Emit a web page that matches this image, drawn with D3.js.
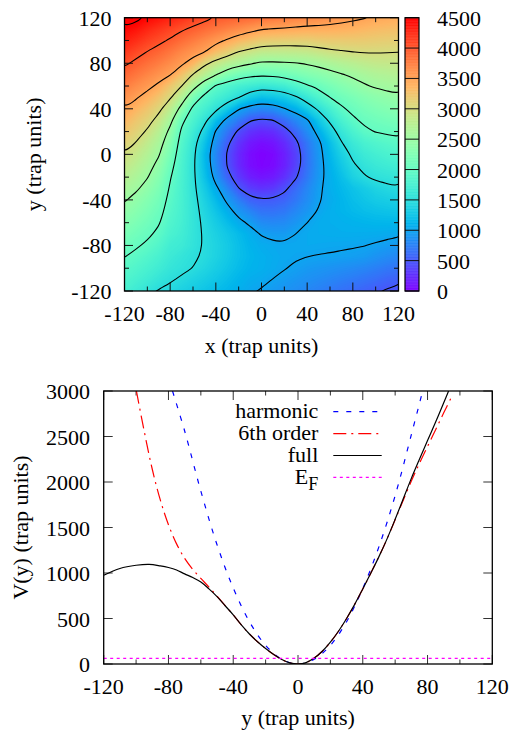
<!DOCTYPE html>
<html>
<head>
<meta charset="utf-8">
<title>trap potential</title>
<script src="https://cdn.jsdelivr.net/npm/d3@7"></script>
<style>
  body { margin: 0; background: #fff; }
  svg { display: block; }
  text { font-family: "Liberation Serif", "Times New Roman", serif; font-size: 22px; fill: #000; }
</style>
</head>
<body>
<svg id="chart" width="514" height="731"></svg>
<script>
// Top panel: V(x,y) every 10 trap units.
const gridX = [-120, -110, -100, -90, -80, -70, -60, -50, -40, -30, -20, -10, 0,
  10, 20, 30, 40, 50, 60, 70, 80, 90, 100, 110, 120];
const gridY = [120, 110, 100, 90, 80, 70, 60, 50, 40, 30, 20, 10, 0,
  -10, -20, -30, -40, -50, -60, -70, -80, -90, -100, -110, -120];
// one row per gridY value, one column per gridX value
const potential = [
  [4620, 4557, 4475, 4393, 4311, 4230, 4148, 4066, 3993, 3956, 3919, 3882, 3845, 3808, 3771, 3734, 3697, 3661, 3624, 3587, 3550, 3513, 3476, 3450, 3430],
  [4471, 4400, 4291, 4206, 4121, 4030, 3955, 3880, 3805, 3735, 3665, 3590, 3512, 3490, 3470, 3449, 3429, 3425, 3420, 3404, 3385, 3351, 3321, 3300, 3291],
  [4329, 4246, 4142, 4059, 3970, 3871, 3776, 3681, 3583, 3470, 3350, 3267, 3183, 3163, 3156, 3150, 3143, 3175, 3193, 3191, 3192, 3186, 3172, 3157, 3149],
  [4186, 4092, 3993, 3912, 3810, 3700, 3610, 3510, 3300, 3160, 2990, 2910, 2830, 2820, 2822, 2830, 2845, 2896, 2947, 2975, 3000, 3020, 3020, 3012, 3005],
  [4043, 3944, 3853, 3765, 3667, 3555, 3365, 3071, 2890, 2740, 2640, 2538, 2450, 2455, 2464, 2488, 2528, 2585, 2650, 2712, 2760, 2810, 2845, 2858, 2869],
  [3904, 3806, 3713, 3619, 3515, 3261, 2986, 2752, 2519, 2280, 2150, 2070, 2048, 2060, 2110, 2183, 2260, 2327, 2403, 2483, 2545, 2615, 2670, 2700, 2730],
  [3768, 3667, 3573, 3442, 3221, 3000, 2648, 2273, 1960, 1845, 1750, 1690, 1627, 1650, 1708, 1835, 1964, 2076, 2185, 2290, 2380, 2470, 2535, 2565, 2595],
  [3631, 3528, 3400, 3240, 3030, 2700, 2210, 1911, 1760, 1640, 1507, 1315, 1213, 1255, 1320, 1461, 1636, 1818, 2000, 2110, 2200, 2290, 2360, 2410, 2460],
  [3495, 3370, 3235, 3070, 2800, 2384, 1922, 1750, 1560, 1308, 1018, 882, 820, 855, 983, 1107, 1329, 1547, 1750, 1953, 2075, 2170, 2235, 2282, 2327],
  [3368, 3227, 3100, 2905, 2600, 2075, 1804, 1579, 1217, 908, 715, 520, 460, 495, 637, 815, 960, 1280, 1551, 1775, 1945, 2060, 2115, 2160, 2193],
  [3241, 3115, 2965, 2750, 2420, 1949, 1695, 1398, 973, 701, 443, 288, 226, 259, 387, 603, 836, 1084, 1363, 1615, 1790, 1940, 2012, 2036, 2060],
  [3114, 2989, 2820, 2630, 2290, 1875, 1609, 1252, 871, 548, 293, 137, 76, 109, 237, 435, 702, 940, 1207, 1483, 1650, 1770, 1840, 1890, 1937],
  [2988, 2855, 2710, 2525, 2190, 1827, 1570, 1171, 799, 475, 224, 68, 6, 39, 167, 365, 660, 918, 1148, 1365, 1550, 1660, 1730, 1780, 1823],
  [2872, 2750, 2610, 2410, 2100, 1800, 1550, 1195, 831, 487, 236, 80, 18, 51, 180, 377, 662, 907, 1109, 1284, 1465, 1570, 1640, 1680, 1710],
  [2756, 2645, 2515, 2310, 2020, 1784, 1557, 1241, 905, 589, 330, 174, 112, 145, 273, 471, 709, 923, 1083, 1212, 1375, 1478, 1545, 1572, 1596],
  [2640, 2544, 2400, 2225, 1970, 1771, 1563, 1319, 1060, 786, 508, 349, 288, 320, 449, 623, 792, 961, 1080, 1160, 1240, 1320, 1400, 1445, 1482],
  [2523, 2415, 2290, 2150, 1925, 1762, 1579, 1381, 1172, 950, 740, 570, 523, 527, 580, 699, 835, 980, 1060, 1130, 1200, 1260, 1310, 1340, 1369],
  [2418, 2320, 2210, 2085, 1885, 1754, 1590, 1424, 1257, 1089, 910, 780, 676, 667, 704, 800, 905, 1015, 1080, 1125, 1165, 1200, 1225, 1242, 1257],
  [2314, 2225, 2130, 2020, 1840, 1737, 1593, 1455, 1325, 1195, 1065, 960, 830, 806, 822, 901, 1000, 1060, 1080, 1095, 1110, 1125, 1140, 1143, 1144],
  [2211, 2130, 2050, 1945, 1790, 1707, 1587, 1473, 1375, 1278, 1181, 1084, 985, 945, 941, 1000, 1040, 1060, 1070, 1075, 1075, 1070, 1065, 1050, 1032],
  [2108, 2035, 1955, 1855, 1710, 1667, 1572, 1480, 1400, 1310, 1210, 1120, 1065, 1040, 1025, 1030, 1040, 1035, 1027, 1022, 1015, 1005, 977, 946, 914],
  [2005, 1930, 1855, 1765, 1660, 1590, 1530, 1475, 1390, 1300, 1210, 1140, 1095, 1060, 1030, 1015, 1000, 990, 985, 972, 958, 935, 880, 830, 795],
  [1910, 1845, 1770, 1690, 1600, 1550, 1495, 1420, 1340, 1260, 1180, 1120, 1090, 1050, 1010, 970, 930, 905, 878, 850, 822, 790, 750, 705, 675],
  [1835, 1760, 1685, 1595, 1525, 1465, 1400, 1340, 1270, 1200, 1130, 1070, 1040, 995, 946, 905, 862, 827, 790, 751, 718, 678, 636, 584, 556],
  [1760, 1668, 1576, 1484, 1440, 1373, 1315, 1257, 1198, 1140, 1082, 1023, 985, 928, 883, 838, 793, 748, 703, 658, 613, 568, 523, 478, 440]
];
const contourLevels = [500, 1000, 1500, 2000, 2500, 3000, 3500, 4000, 4500];
const mapTicks = [-120, -80, -40, 0, 40, 80, 120];
const mapMinorTicks = [-100, -60, -20, 20, 60, 100];
const cbTicks = [0, 500, 1000, 1500, 2000, 2500, 3000, 3500, 4000, 4500];

// Bottom panel: cuts through the trap along y.
const fullY = [-120, -110, -100, -92, -85, -80, -75, -70, -65, -60, -55, -50, -45, -40, -35, -30, -25, -20, -15, -10,
  -5, 0, 5, 10, 15, 20, 25, 30, 35, 40, 45, 50, 55, 60, 65, 70, 75, 80, 85, 90, 93];
const fullV = [975, 1050, 1085, 1095, 1078, 1060, 1033, 990, 950, 900, 825, 740, 640, 540, 430, 330, 245, 170, 105, 50,
  12, 0, 15, 65, 140, 240, 360, 500, 655, 825, 1000, 1180, 1375, 1590, 1815, 2040, 2250, 2455, 2660, 2870, 3000];
const sixthY = [-99.8, -95, -90, -85, -80, -75, -70, -65, -60, -55, -50, -45, -40, -35, -30, -25, -20, -15, -10, -5,
  0, 5, 10, 15, 20, 25, 30, 35, 40, 45, 50, 55, 60, 65, 70, 75, 80, 85, 90, 95];
const sixthV = [3000, 2560, 2140, 1800, 1530, 1320, 1160, 1040, 940, 845, 745, 642, 541, 431, 330, 245, 170, 105, 50, 12,
  0, 15, 65, 140, 240, 360, 500, 655, 825, 1000, 1180, 1375, 1585, 1800, 2010, 2205, 2390, 2575, 2760, 2940];
const harmY = [-77.5, -70, -60, -50, -40, -30, -20, -10, 0, 10, 20, 30, 40, 50, 60, 70, 77];
const harmV = [3000, 2560, 1900, 1310, 835, 465, 205, 52, 0, 52, 205, 465, 830, 1290, 1850, 2520, 3000];
const fermiEnergy = 62;
const sliceXTicks = [-120, -80, -40, 0, 40, 80, 120];
const sliceXMinor = [-100, -60, -20, 20, 60, 100];
const sliceVTicks = [0, 500, 1000, 1500, 2000, 2500, 3000];

const svg = d3.select('#chart');

// gnuplot "rgbformulae 33,13,10" rainbow
function rainbow(t) {
  const r = Math.min(1, Math.abs(2 * t - 0.5));
  const g = Math.max(0, Math.sin(Math.PI * t));
  const b = Math.max(0, Math.cos(Math.PI * t / 2));
  return d3.rgb(r * 255, g * 255, b * 255).toString();
}

// ticks pointing inwards on all four sides of a box
function boxTicks(g, sx, sy, xs, ys, len) {
  const [x0, x1] = sx.range();
  const [y0, y1] = sy.range();
  xs.forEach(v => {
    g.append('line').attr('x1', sx(v)).attr('x2', sx(v)).attr('y1', y0).attr('y2', y0 - len);
    g.append('line').attr('x1', sx(v)).attr('x2', sx(v)).attr('y1', y1).attr('y2', y1 + len);
  });
  ys.forEach(v => {
    g.append('line').attr('y1', sy(v)).attr('y2', sy(v)).attr('x1', x0).attr('x2', x0 + len);
    g.append('line').attr('y1', sy(v)).attr('y2', sy(v)).attr('x1', x1).attr('x2', x1 - len);
  });
}

// ---------- top panel ----------
const xMap = d3.scaleLinear().domain([-120, 120]).range([124.5, 398.5]);
const yMap = d3.scaleLinear().domain([-120, 120]).range([291, 17.7]);
const colour = d3.scaleSequential(rainbow).domain([0, 4500]).clamp(true);

const nx = gridX.length, ny = gridY.length;
const gx = d3.scaleLinear().domain([0.5, nx - 0.5]).range([xMap(gridX[0]), xMap(gridX[nx - 1])]);
const gy = d3.scaleLinear().domain([0.5, ny - 0.5]).range([yMap(gridY[0]), yMap(gridY[ny - 1])]);
const values = potential.flat();
const gridPath = d3.geoPath(d3.geoTransform({
  point(px, py) { this.stream.point(gx(px), gy(py)); }
}));

svg.append('clipPath').attr('id', 'mapClip')
  .append('rect')
  .attr('x', xMap(-120)).attr('y', yMap(120))
  .attr('width', xMap(120) - xMap(-120)).attr('height', yMap(-120) - yMap(120));

const mapG = svg.append('g').attr('clip-path', 'url(#mapClip)');

// colour map as thin filled bands
const bands = d3.contours().size([nx, ny]).thresholds(d3.range(0, 4500, 20))(values);
mapG.selectAll('path.band')
  .data(bands)
  .join('path')
  .attr('class', 'band')
  .attr('d', gridPath)
  .attr('fill', d => colour(d.value + 10));

// contour lines, smoothed with a closed B-spline
const isolines = d3.contours().size([nx, ny]).thresholds(contourLevels)(values);
const ringLine = d3.line()
  .x(p => gx(p[0]))
  .y(p => gy(p[1]))
  .curve(d3.curveBasisClosed);
isolines.forEach(c => {
  c.coordinates.forEach(poly => poly.forEach(ring => {
    mapG.append('path')
      .attr('d', ringLine(ring.slice(0, -1)))
      .attr('fill', 'none')
      .attr('stroke', '#000')
      .attr('stroke-width', 1.1);
  }));
});

const mapTickG = svg.append('g').attr('stroke', '#111').attr('stroke-width', 1);
boxTicks(mapTickG, xMap, yMap, mapTicks, mapTicks, 8.5);
boxTicks(mapTickG, xMap, yMap, mapMinorTicks, mapMinorTicks, 4.5);

svg.append('rect')
  .attr('x', xMap(-120)).attr('y', yMap(120))
  .attr('width', xMap(120) - xMap(-120)).attr('height', yMap(-120) - yMap(120))
  .attr('fill', 'none').attr('stroke', '#000').attr('stroke-width', 1.3);

svg.append('g').selectAll('text')
  .data(mapTicks)
  .join('text')
  .attr('x', d => xMap(d))
  .attr('y', 320.7)
  .attr('text-anchor', 'middle')
  .text(d => d);

svg.append('g').selectAll('text')
  .data(mapTicks)
  .join('text')
  .attr('x', 111.5)
  .attr('y', d => yMap(d) + 8)
  .attr('text-anchor', 'end')
  .text(d => d);

svg.append('text')
  .attr('x', (xMap(-120) + xMap(120)) / 2).attr('y', 353)
  .attr('text-anchor', 'middle')
  .text('x (trap units)');

svg.append('text')
  .attr('transform', `translate(41,${(yMap(-120) + yMap(120)) / 2}) rotate(-90)`)
  .attr('text-anchor', 'middle')
  .text('y (trap units)');

// colour box
const cbLeft = 405, cbRight = 419;
const cbY = d3.scaleLinear().domain([0, 4500]).range([291, 17.7]);
svg.append('g').selectAll('rect')
  .data(d3.range(0, 4500, 10))
  .join('rect')
  .attr('x', cbLeft)
  .attr('width', cbRight - cbLeft)
  .attr('y', d => cbY(d + 10))
  .attr('height', d => cbY(d) - cbY(d + 10) + 0.4)
  .attr('fill', d => colour(d + 5));

svg.append('g').attr('stroke', '#111').attr('stroke-width', 1)
  .selectAll('line')
  .data(cbTicks)
  .join('line')
  .attr('x1', cbLeft).attr('x2', cbRight)
  .attr('y1', d => cbY(d)).attr('y2', d => cbY(d));

svg.append('rect')
  .attr('x', cbLeft).attr('y', cbY(4500))
  .attr('width', cbRight - cbLeft).attr('height', cbY(0) - cbY(4500))
  .attr('fill', 'none').attr('stroke', '#000').attr('stroke-width', 1.2);

svg.append('g').selectAll('text')
  .data(cbTicks)
  .join('text')
  .attr('x', 437)
  .attr('y', d => cbY(d) + 8)
  .text(d => d);

// ---------- bottom panel ----------
const xCut = d3.scaleLinear().domain([-120, 120]).range([103.7, 492.3]);
const vCut = d3.scaleLinear().domain([0, 3000]).range([664, 391]);

svg.append('clipPath').attr('id', 'cutClip')
  .append('rect')
  .attr('x', xCut(-120)).attr('y', vCut(3000))
  .attr('width', xCut(120) - xCut(-120)).attr('height', vCut(0) - vCut(3000));

const cutTickG = svg.append('g').attr('stroke', '#333').attr('stroke-width', 1);
boxTicks(cutTickG, xCut, vCut, sliceXTicks, sliceVTicks, 9);
boxTicks(cutTickG, xCut, vCut, sliceXMinor, [], 4.5);

const line = d3.line()
  .x(d => xCut(d[0]))
  .y(d => vCut(d[1]))
  .curve(d3.curveCatmullRom.alpha(0.5));

const series = [
  { name: 'harmonic', ys: harmY, vs: harmV, stroke: '#0000ff', dash: '5,8' },
  { name: '6th order', ys: sixthY, vs: sixthV, stroke: '#ff0000', dash: '13,5,2,5' },
  { name: 'full', ys: fullY, vs: fullV, stroke: '#000000', dash: null },
  { name: 'E', ys: xCut.domain(), vs: [fermiEnergy, fermiEnergy], stroke: '#ff00ff', dash: '3,3.5' }
];

const cutG = svg.append('g').attr('clip-path', 'url(#cutClip)');
series.forEach(s => {
  cutG.append('path')
    .attr('d', line(s.ys.map((v, i) => [v, s.vs[i]])))
    .attr('fill', 'none')
    .attr('stroke', s.stroke)
    .attr('stroke-width', 1.2)
    .attr('stroke-dasharray', s.dash);
});

svg.append('rect')
  .attr('x', xCut(-120)).attr('y', vCut(3000))
  .attr('width', xCut(120) - xCut(-120)).attr('height', vCut(0) - vCut(3000))
  .attr('fill', 'none').attr('stroke', '#000').attr('stroke-width', 1.3);

svg.append('g').selectAll('text')
  .data(sliceXTicks)
  .join('text')
  .attr('x', d => xCut(d))
  .attr('y', 694)
  .attr('text-anchor', 'middle')
  .text(d => d);

svg.append('g').selectAll('text')
  .data(sliceVTicks)
  .join('text')
  .attr('x', 90)
  .attr('y', d => vCut(d) + 8)
  .attr('text-anchor', 'end')
  .text(d => d);

svg.append('text')
  .attr('x', (xCut(-120) + xCut(120)) / 2).attr('y', 725)
  .attr('text-anchor', 'middle')
  .text('y (trap units)');

svg.append('text')
  .attr('transform', `translate(28,${(vCut(0) + vCut(3000)) / 2}) rotate(-90)`)
  .attr('text-anchor', 'middle')
  .text('V(y) (trap units)');

// legend
const legend = svg.append('g');
series.forEach((s, i) => {
  const base = 418.3 + i * 21.9;
  const t = legend.append('text')
    .attr('x', 318.3).attr('y', base)
    .attr('text-anchor', 'end')
    .text(s.name);
  if (s.name === 'E') {
    t.append('tspan').attr('dy', 6).attr('font-size', 18).text('F');
  }
  legend.append('line')
    .attr('x1', 333.3).attr('x2', 381.7)
    .attr('y1', base - 6.6).attr('y2', base - 6.6)
    .attr('stroke', s.stroke)
    .attr('stroke-width', 1.2)
    .attr('stroke-dasharray', s.dash);
});
</script>
</body>
</html>
